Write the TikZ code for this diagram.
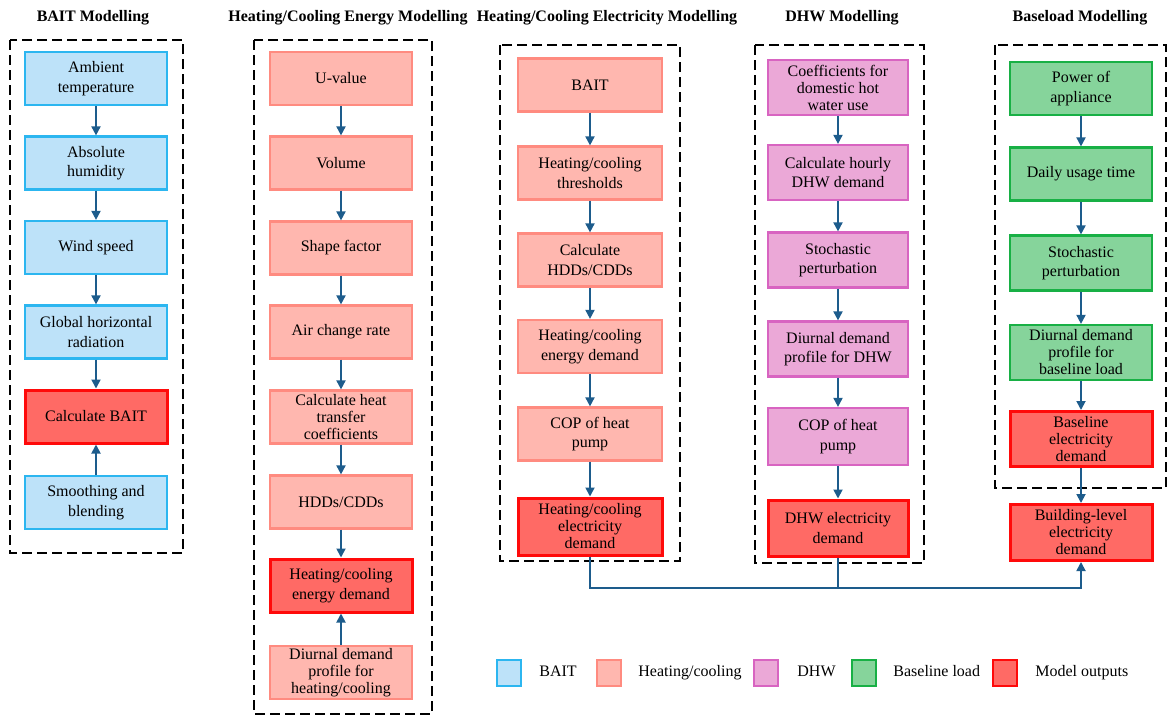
\documentclass[tikz,border=0pt]{standalone}
\usepackage{fontspec}
\setmainfont{Liberation Serif}
\usetikzlibrary{arrows.meta,positioning}

\definecolor{baitfill}{HTML}{BDE2F9}
\definecolor{baitline}{HTML}{2CB6F0}
\definecolor{heatfill}{HTML}{FFB7AF}
\definecolor{heatline}{HTML}{FF8B80}
\definecolor{dhwfill}{HTML}{EBA8D7}
\definecolor{dhwline}{HTML}{D864C1}
\definecolor{basefill}{HTML}{86D49B}
\definecolor{baseline}{HTML}{18B045}
\definecolor{outfill}{HTML}{FF6A65}
\definecolor{outline}{HTML}{FF0A0A}
\definecolor{flowblue}{HTML}{1D5C8C}

\begin{document}
\begin{tikzpicture}[x=1pt,y=-1pt,
    box/.style={draw,line width=2.2pt,minimum width=142pt,minimum height=53pt,
      align=center,inner sep=1pt,font=\fontsize{16}{19.5}\selectfont},
    tight/.style={font=\fontsize{16}{17}\selectfont},
    bait/.style={box,fill=baitfill,draw=baitline},
    heat/.style={box,fill=heatfill,draw=heatline},
    dhw/.style={box,fill=dhwfill,draw=dhwline},
    base/.style={box,fill=basefill,draw=baseline},
    output/.style={box,fill=outfill,draw=outline,line width=3pt},
    flow/.style={draw=flowblue,line width=1.8pt,-{Triangle[length=9pt,width=9pt]}},
    bus/.style={draw=flowblue,line width=1.8pt},
    group/.style={draw=black,line width=1.8pt,dash pattern=on 10pt off 5pt},
    title/.style={font=\bfseries\fontsize{16}{19}\selectfont},
    key/.style={minimum width=24pt,minimum height=26pt,inner sep=0pt,line width=2.4pt},
    keytext/.style={font=\fontsize{16}{19}\selectfont,inner sep=0pt,
      text height=11pt,text depth=4pt}]
  \useasboundingbox (0,0) rectangle (1168,716);

  % titles
  \node[title] (t1) at (93,18) {BAIT Modelling};
  \node[title] (t2) at (348,18) {Heating/Cooling Energy Modelling};
  \node[title] (t3) at (607,18) {Heating/Cooling Electricity Modelling};
  \node[title] (t4) at (842,18) {DHW Modelling};
  \node[title] (t5) at (1080,18) {Baseload Modelling};

  % dashed groups
  \draw[group] (10,40) rectangle (183,553);
  \draw[group] (254,40) rectangle (432,714);
  \draw[group] (500,45) rectangle (680,561);
  \draw[group] (755,45) rectangle (924,563);
  \draw[group] (995,45) rectangle (1166,488);

  % BAIT
  \node[bait] (b1) at (96,78.5) {Ambient\\temperature};
  \node[bait] (b2) at (96,163) {Absolute\\humidity};
  \node[bait] (b3) at (96,247.5) {Wind speed};
  \node[bait] (b4) at (96,332) {Global horizontal\\radiation};
  \node[output] (b5) at (96,416.5) {Calculate BAIT};
  \node[bait] (b6) at (96,502.5) {Smoothing and\\blending};

  % heating/cooling energy
  \node[heat] (e1) at (341,78.5) {U-value};
  \node[heat] (e2) at (341,163) {Volume};
  \node[heat] (e3) at (341,248) {Shape factor};
  \node[heat] (e4) at (341,332) {Air change rate};
  \node[heat,tight] (e5) at (341,417) {Calculate heat\\transfer\\coefficients};
  \node[heat] (e6) at (341,502) {HDDs/CDDs};
  \node[output] (e7) at (341,585.5) {Heating/cooling\\energy demand};
  \node[heat,tight] (e8) at (341,672.5) {Diurnal demand\\profile for\\heating/cooling};

  % heating/cooling electricity
  \node[heat,minimum width=144pt] (h1) at (590,85) {BAIT};
  \node[heat,minimum width=144pt] (h2) at (590,173) {Heating/cooling\\thresholds};
  \node[heat,minimum width=144pt] (h3) at (590,260) {Calculate\\HDDs/CDDs};
  \node[heat,minimum width=144pt] (h4) at (590,346.5) {Heating/cooling\\energy demand};
  \node[heat,minimum width=144pt] (h5) at (590,434) {COP of heat\\pump};
  \node[output,tight,minimum width=144pt,minimum height=57pt] (h6) at (590,526.5) {Heating/cooling\\electricity\\demand};

  % DHW
  \node[dhw,tight,minimum width=140pt,minimum height=55pt] (d1) at (838,87.5) {Coefficients for\\domestic hot\\water use};
  \node[dhw,minimum width=140pt,minimum height=55pt] (d2) at (838,172.5) {Calculate hourly\\DHW demand};
  \node[dhw,minimum width=140pt,minimum height=55pt] (d3) at (838,260) {Stochastic\\perturbation};
  \node[dhw,minimum width=140pt,minimum height=55pt] (d4) at (838,349) {Diurnal demand\\profile for DHW};
  \node[dhw,minimum width=140pt,minimum height=57pt] (d5) at (838,436.5) {COP of heat\\pump};
  \node[output,minimum width=140pt,minimum height=56pt] (d6) at (838,528) {DHW electricity\\demand};

  % baseload
  \node[base] (l1) at (1081,88.5) {Power of\\appliance};
  \node[base] (l2) at (1081,174) {Daily usage time};
  \node[base,minimum height=55pt] (l3) at (1081,263) {Stochastic\\perturbation};
  \node[base,tight,minimum height=55pt] (l4) at (1081,352.5) {Diurnal demand\\profile for\\baseline load};
  \node[output,tight,minimum height=55pt] (l5) at (1081,439) {Baseline\\electricity\\demand};
  \node[output,tight,minimum height=56pt] (bld) at (1081,532.5) {Building-level\\electricity\\demand};

  % arrows
  \draw[flow] (b1) -- (b2);
  \draw[flow] (b2) -- (b3);
  \draw[flow] (b3) -- (b4);
  \draw[flow] (b4) -- (b5);
  \draw[flow] (b6) -- (b5);

  \draw[flow] (e1) -- (e2);
  \draw[flow] (e2) -- (e3);
  \draw[flow] (e3) -- (e4);
  \draw[flow] (e4) -- (e5);
  \draw[flow] (e5) -- (e6);
  \draw[flow] (e6) -- (e7);
  \draw[flow] (e8) -- (e7);

  \draw[flow] (h1) -- (h2);
  \draw[flow] (h2) -- (h3);
  \draw[flow] (h3) -- (h4);
  \draw[flow] (h4) -- (h5);
  \draw[flow] (h5) -- (h6);

  \draw[flow] (d1) -- (d2);
  \draw[flow] (d2) -- (d3);
  \draw[flow] (d3) -- (d4);
  \draw[flow] (d4) -- (d5);
  \draw[flow] (d5) -- (d6);

  \draw[flow] (l1) -- (l2);
  \draw[flow] (l2) -- (l3);
  \draw[flow] (l3) -- (l4);
  \draw[flow] (l4) -- (l5);
  \draw[flow] (l5) -- (bld);

  % collector line
  \coordinate (join) at (838,588);
  \draw[bus] (d6.south) -- (join);
  \draw[flow] (h6.south) |- (join) -| (bld.south);

  % legend
  \node[key,draw=baitline,fill=baitfill] (k1) at (509,673) {};
  \node[keytext,right=17pt of k1] (k1t) {BAIT};
  \node[key,draw=heatline,fill=heatfill] (k2) at (609,673) {};
  \node[keytext,right=16pt of k2] (k2t) {Heating/cooling};
  \node[key,draw=dhwline,fill=dhwfill] (k3) at (766,673) {};
  \node[keytext,right=18pt of k3] (k3t) {DHW};
  \node[key,draw=baseline,fill=basefill] (k4) at (864,673) {};
  \node[keytext,right=16pt of k4] (k4t) {Baseline load};
  \node[key,draw=outline,fill=outfill] (k5) at (1005,673) {};
  \node[keytext,right=17pt of k5] (k5t) {Model outputs};
\end{tikzpicture}
\end{document}
